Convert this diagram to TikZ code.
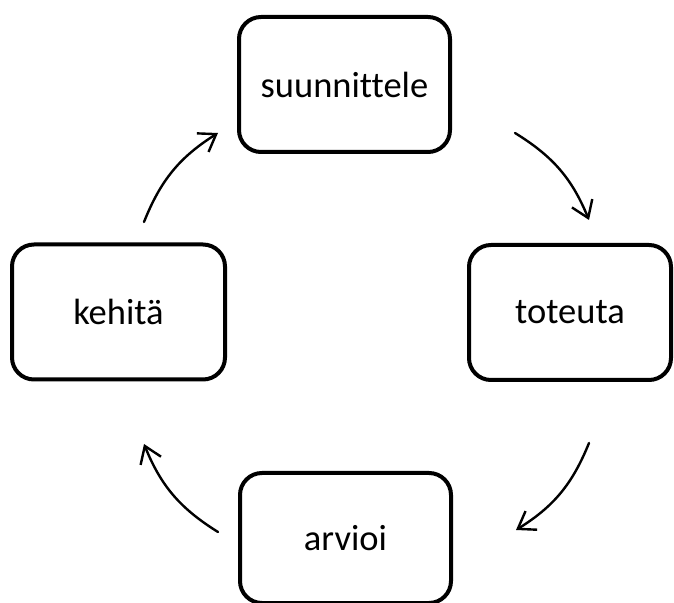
\documentclass[tikz,border=0pt]{standalone}
\usepackage{fontspec}
\setmainfont{Carlito}[Ligatures=CommonOff]
\usetikzlibrary{arrows.meta}

\begin{document}
\begin{tikzpicture}[x=1pt,y=1pt,line cap=round,line join=round,
  stage/.style={draw=black,line width=4pt,rounded corners=22pt,fill=white,
    minimum width=211pt,minimum height=135pt,inner sep=0pt,
    font=\fontsize{36.5}{44}\selectfont},
  cycarrow/.style={line width=2.4pt,-{Straight Barb[length=16pt,width=22pt,line width=2.4pt]},bend left=18}]
\useasboundingbox (0,0) rectangle (674,602);
% the four stages
\node[stage] (plan) at (344.5,517.5) {suunnittele};
\node[stage,minimum width=202pt] (do) at (570,289.5) {toteuta};
\node[stage,minimum height=130pt] (check) at (345.5,64) {arvioi};
\node[stage,minimum width=213pt] (act) at (118.5,290) {kehitä};
% arrow ends
\coordinate (p1) at (515,469);
\coordinate (d1) at (589,382);
\coordinate (d2) at (589,159);
\coordinate (c1) at (516,72);
\coordinate (c2) at (218,70);
\coordinate (a1) at (144,158);
\coordinate (a2) at (144,380);
\coordinate (p2) at (218,469);
\draw[cycarrow] (p1) to (d1);
\draw[cycarrow] (d2) to (c1);
\draw[cycarrow] (c2) to (a1);
\draw[cycarrow] (a2) to (p2);
\end{tikzpicture}
\end{document}
